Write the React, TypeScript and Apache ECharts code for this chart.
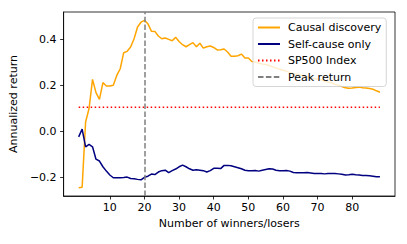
import React, { useEffect, useRef } from "react";
import * as echarts from "echarts";

const WINNERS: number[] = Array.from({ length: 88 }, (_, i) => i + 1);

const CAUSAL: number[] = [
  -0.246, -0.244, 0.04, 0.099, 0.226, 0.168, 0.139, 0.212, 0.197, 0.197,
  0.2, 0.243, 0.272, 0.342, 0.348, 0.367, 0.403, 0.454, 0.475, 0.483,
  0.468, 0.436, 0.435, 0.415, 0.403, 0.406, 0.4, 0.394, 0.409, 0.391,
  0.377, 0.368, 0.377, 0.386, 0.368, 0.383, 0.362, 0.368, 0.371, 0.365,
  0.354, 0.355, 0.358, 0.345, 0.327, 0.327, 0.329, 0.336, 0.319, 0.319,
  0.304, 0.302, 0.296, 0.293, 0.291, 0.286, 0.281, 0.276, 0.27, 0.266,
  0.262, 0.255, 0.251, 0.248, 0.245, 0.24, 0.238, 0.233, 0.229, 0.227,
  0.224, 0.218, 0.214, 0.211, 0.204, 0.2, 0.195, 0.189, 0.187, 0.188,
  0.19, 0.192, 0.189, 0.188, 0.186, 0.183, 0.176, 0.17,
];

const SELF_CAUSE: number[] = [
  -0.025, 0.009, -0.068, -0.058, -0.068, -0.122, -0.13, -0.155, -0.174, -0.191,
  -0.203, -0.203, -0.203, -0.202, -0.2, -0.206, -0.207, -0.21, -0.212, -0.201,
  -0.196, -0.187, -0.189, -0.178, -0.172, -0.17, -0.181, -0.172, -0.165, -0.155,
  -0.148, -0.155, -0.164, -0.17, -0.168, -0.17, -0.172, -0.178, -0.172, -0.162,
  -0.162, -0.163, -0.149, -0.149, -0.151, -0.155, -0.159, -0.164, -0.17, -0.172,
  -0.172, -0.171, -0.174, -0.17, -0.167, -0.164, -0.165, -0.17, -0.172, -0.172,
  -0.171, -0.174, -0.18, -0.181, -0.181, -0.181, -0.18, -0.182, -0.184, -0.184,
  -0.184, -0.186, -0.184, -0.184, -0.184, -0.186, -0.188, -0.191, -0.19, -0.188,
  -0.19, -0.191, -0.193, -0.193, -0.194, -0.196, -0.199, -0.199,
];

const SP500_RETURN = 0.104;
const PEAK_X = 20;

const X_TICKS: number[] = [10, 20, 30, 40, 50, 60, 70, 80];
const Y_TICKS: number[] = [-0.2, 0.0, 0.2, 0.4];

const SERIES_NAMES: string[] = ["Causal discovery", "Self-cause only", "SP500 Index", "Peak return"];

const FONT = "DejaVu Sans";

export default function App() {
  const ref = useRef<HTMLDivElement>(null);

  useEffect(() => {
    if (!ref.current) return;
    const chart = echarts.init(ref.current, undefined, { renderer: "svg" });

    const xMinData = WINNERS[0];
    const xMaxData = WINNERS[WINNERS.length - 1];
    const xPad = (xMaxData - xMinData) * 0.05;
    const allY = [...CAUSAL, ...SELF_CAUSE, SP500_RETURN];
    const yMinData = Math.min(...allY);
    const yMaxData = Math.max(...allY);
    const yPad = (yMaxData - yMinData) * 0.05;

    const fmt = (v: number) => v.toFixed(1).replace("-", "\u2212");

    chart.setOption({
      animation: false,
      textStyle: { fontFamily: FONT },
      grid: {
        left: 63,
        right: 12,
        top: 12,
        bottom: 48,
        show: true,
        borderColor: "#000",
        borderWidth: 0.8,
        containLabel: false,
      },
      legend: {
        orient: "vertical",
        left: 253,
        top: 18,
        padding: [4, 5, 4, 4],
        itemWidth: 22,
        itemHeight: 11,
        itemGap: 5.5,
        backgroundColor: "rgba(255,255,255,0.8)",
        borderColor: "#cccccc",
        borderWidth: 0.8,
        borderRadius: 3,
        data: SERIES_NAMES,
        itemStyle: { opacity: 0 },
        textStyle: { fontFamily: FONT, fontSize: 11, color: "#000", padding: [0, 0, 0, 3] },
      },
      xAxis: {
        type: "value",
        min: xMinData - xPad,
        max: xMaxData + xPad,
        name: "Number of winners/losers",
        nameLocation: "middle",
        nameGap: 21,
        nameTextStyle: { fontFamily: FONT, fontSize: 11, color: "#000" },
        splitLine: { show: false },
        axisLine: { show: true, onZero: false, lineStyle: { color: "#000", width: 0.8 } },
        axisTick: {
          show: true,
          length: 3.5,
          lineStyle: { color: "#000", width: 0.8 },
          customValues: X_TICKS,
        },
        axisLabel: {
          fontFamily: FONT,
          fontSize: 11,
          color: "#000",
          margin: 6,
          customValues: X_TICKS,
          formatter: (v: number) => String(v),
        },
      },
      yAxis: {
        type: "value",
        min: yMinData - yPad,
        max: yMaxData + yPad,
        name: "Annualized return",
        nameLocation: "middle",
        nameRotate: 90,
        nameGap: 40,
        nameTextStyle: { fontFamily: FONT, fontSize: 11, color: "#000" },
        splitLine: { show: false },
        axisLine: { show: true, onZero: false, lineStyle: { color: "#000", width: 0.8 } },
        axisTick: {
          show: true,
          length: 3.5,
          lineStyle: { color: "#000", width: 0.8 },
          customValues: Y_TICKS,
        },
        axisLabel: {
          fontFamily: FONT,
          fontSize: 11,
          color: "#000",
          margin: 7,
          customValues: Y_TICKS,
          formatter: (v: number) => fmt(v),
        },
      },
      series: [
        {
          name: SERIES_NAMES[0],
          type: "line",
          symbol: "none",
          data: WINNERS.map((x, i) => [x, CAUSAL[i]]),
          lineStyle: { color: "#FFA500", width: 1.5 },
          itemStyle: { color: "#FFA500" },
          z: 2,
        },
        {
          name: SERIES_NAMES[1],
          type: "line",
          symbol: "none",
          data: WINNERS.map((x, i) => [x, SELF_CAUSE[i]]),
          lineStyle: { color: "#000080", width: 1.5 },
          itemStyle: { color: "#000080" },
          z: 3,
        },
        {
          name: SERIES_NAMES[2],
          type: "line",
          symbol: "none",
          data: [
            [xMinData, SP500_RETURN],
            [xMaxData, SP500_RETURN],
          ],
          lineStyle: { color: "#FF0000", width: 1.5, type: [1.5, 2.5] },
          itemStyle: { color: "#FF0000" },
          z: 4,
        },
        {
          name: SERIES_NAMES[3],
          type: "line",
          symbol: "none",
          data: [],
          lineStyle: { color: "#808080", width: 1.5, type: [5.5, 2.4] },
          itemStyle: { color: "#808080" },
          z: 5,
          markLine: {
            silent: true,
            symbol: "none",
            label: { show: false },
            lineStyle: { color: "#808080", width: 1.5, type: [5.5, 2.4] },
            data: [{ xAxis: PEAK_X }],
          },
        },
      ],
    });

    return () => {
      chart.dispose();
    };
  }, []);

  return <div ref={ref} style={{ width: 407, height: 244, position: "absolute", left: 0, top: 0 }} />;
}
